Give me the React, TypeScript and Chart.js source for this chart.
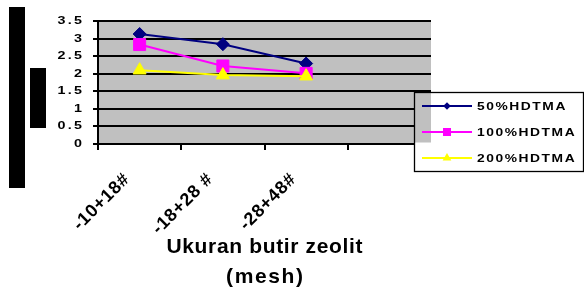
import React, { useEffect, useRef } from 'react';
import { Chart, registerables } from 'chart.js';

Chart.register(...registerables);

// ---- data ----
const categories = ['-10+18#', '-18+28 #', '-28+48#', ''];
const series50 = [3.13, 2.84, 2.29, null];
const series100 = [2.83, 2.22, 2.01, null];
const series200 = [2.1, 1.96, 1.93, null];
const seriesLabels = ['50%HDTMA', '100%HDTMA', '200%HDTMA'];
const seriesColors = ['#000080', '#FF00FF', '#FFFF00'];
const seriesShapes = ['rectRot', 'rect', 'triangle'];
const yMin = 0;
const yMax = 3.5;
const yStep = 0.5;
const xTitleLines = ['Ukuran butir zeolit', '(mesh)'];

const FONT = '"Liberation Sans", Arial, Helvetica, sans-serif';

function drawSpaced(
  ctx: CanvasRenderingContext2D,
  text: string,
  x: number,
  y: number,
  font: string,
  spacing: number,
  align: CanvasTextAlign,
  baseline: CanvasTextBaseline,
  sx: number = 1
) {
  ctx.save();
  ctx.translate(x, y);
  ctx.scale(sx, 1);
  ctx.font = font;
  (ctx as any).letterSpacing = spacing + 'px';
  ctx.textAlign = align;
  ctx.textBaseline = baseline;
  ctx.fillStyle = '#000';
  const dx = align === 'right' ? spacing : align === 'center' ? spacing / 2 : 0;
  ctx.fillText(text, dx, 0);
  ctx.restore();
}

function drawShape(ctx: CanvasRenderingContext2D, kind: string, x: number, y: number, r: number, color: string) {
  ctx.save();
  ctx.fillStyle = color;
  ctx.beginPath();
  if (kind === 'rectRot') {
    ctx.moveTo(x - r, y);
    ctx.lineTo(x, y - r);
    ctx.lineTo(x + r, y);
    ctx.lineTo(x, y + r);
  } else if (kind === 'rect') {
    ctx.rect(x - r, y - r, 2 * r, 2 * r);
  } else {
    ctx.moveTo(x, y - r);
    ctx.lineTo(x + r * 0.866, y + r / 2);
    ctx.lineTo(x - r * 0.866, y + r / 2);
  }
  ctx.closePath();
  ctx.fill();
  ctx.restore();
}

const decor = {
  id: 'decor',
  beforeDraw(chart: any) {
    const { ctx, chartArea: a } = chart;
    ctx.save();
    ctx.fillStyle = '#ffffff';
    ctx.fillRect(0, 0, chart.width, chart.height);
    ctx.fillStyle = '#C0C0C0';
    ctx.fillRect(a.left, a.top, a.right - a.left, a.bottom - a.top);
    ctx.restore();
  },
  afterDraw(chart: any) {
    const { ctx, chartArea: a } = chart;
    const ys = chart.scales.y;
    const xs = chart.scales.x;

    // legend box
    const L = 414, T = 92, R = 583, B = 171;
    ctx.save();
    ctx.fillStyle = '#ffffff';
    ctx.fillRect(L, T, R - L, B - T);
    ctx.fillStyle = '#C0C0C0';
    ctx.fillRect(L, T, a.right - L, a.bottom - 1.5 - T);
    ctx.strokeStyle = '#000';
    ctx.lineWidth = 1.3;
    ctx.strokeRect(L + 0.5, T + 0.5, R - L, B - T);
    ctx.restore();

    const rows = [106, 132, 158];
    const sizes = [3.8, 4, 5];
    seriesLabels.forEach((lab, i) => {
      const y = rows[i];
      ctx.save();
      ctx.strokeStyle = seriesColors[i];
      ctx.lineWidth = 2;
      ctx.beginPath();
      ctx.moveTo(422, y);
      ctx.lineTo(472, y);
      ctx.stroke();
      ctx.restore();
      drawShape(ctx, seriesShapes[i], 447, y, sizes[i], seriesColors[i]);
      drawSpaced(ctx, lab, 477, y + 0.5, 'bold 11.5px ' + FONT, 1.3, 'left', 'middle', 1.2);
    });

    // y tick labels
    ys.ticks.forEach((t: any) => {
      const y = ys.getPixelForValue(t.value);
      drawSpaced(ctx, String(t.value), 82, y, 'bold 11px ' + FONT, 1.8, 'right', 'middle', 1.3);
    });

    // x tick labels (rotated)
    categories.forEach((lab, i) => {
      if (!lab) return;
      const cx = xs.getPixelForValue(i);
      ctx.save();
      ctx.translate(cx - 13, 177);
      ctx.rotate(-Math.PI / 4);
      drawSpaced(ctx, lab, 0, 0, 'bold 18px ' + FONT, 0.8, 'right', 'middle');
      ctx.restore();
    });

    // x axis title
    const cx = (a.left + a.right) / 2;
    drawSpaced(ctx, xTitleLines[0], cx, 253, 'bold 21px ' + FONT, 0.65, 'center', 'alphabetic');
    drawSpaced(ctx, xTitleLines[1], cx, 283, 'bold 21px ' + FONT, 1.6, 'center', 'alphabetic');

    // black blocks on the left
    ctx.save();
    ctx.fillStyle = '#000';
    ctx.fillRect(9, 7, 16, 181);
    ctx.fillRect(30, 68, 16, 60);
    ctx.restore();
  },
};

export default function App() {
  const ref = useRef<HTMLCanvasElement | null>(null);

  useEffect(() => {
    if (!ref.current) return;
    const mk = (i: number, data: (number | null)[], radius: number, order: number) => ({
      label: seriesLabels[i],
      data,
      borderColor: seriesColors[i],
      backgroundColor: seriesColors[i],
      borderWidth: 2,
      pointStyle: seriesShapes[i] as any,
      pointRadius: radius,
      pointBackgroundColor: seriesColors[i],
      pointBorderColor: seriesColors[i],
      pointBorderWidth: 1,
      tension: 0,
      order,
    });
    const chart = new Chart(ref.current, {
      type: 'line',
      data: {
        labels: categories,
        datasets: [mk(0, series50, 6.5, 3), mk(1, series100, 8.5, 2), mk(2, series200, 7.5, 1)],
      },
      options: {
        animation: false,
        responsive: false,
        devicePixelRatio: 1,
        layout: { padding: { left: 0, top: 21, right: 153, bottom: 0 } },
        plugins: {
          legend: { display: false },
          tooltip: { enabled: false },
          title: { display: false },
        },
        scales: {
          x: {
            type: 'category',
            offset: true,
            ticks: { display: false },
            grid: {
              display: true,
              drawOnChartArea: false,
              drawTicks: true,
              tickLength: 6,
              offset: true,
              color: '#000',
              lineWidth: 2,
            },
            border: { display: true, color: '#000', width: 2 },
            afterFit: (s: any) => {
              s.height = 145;
            },
          },
          y: {
            min: yMin,
            max: yMax,
            ticks: { display: false, stepSize: yStep },
            grid: { color: '#000', lineWidth: 2, drawTicks: true, tickLength: 5 },
            border: { display: true, color: '#000', width: 2 },
            afterFit: (s: any) => {
              s.width = 98;
            },
          },
        },
      },
      plugins: [decor],
    });
    return () => chart.destroy();
  }, []);

  return (
    <div style={{ position: 'absolute', left: 0, top: 0, width: 584, height: 289 }}>
      <canvas ref={ref} width={584} height={289} style={{ display: 'block' }} />
    </div>
  );
}
